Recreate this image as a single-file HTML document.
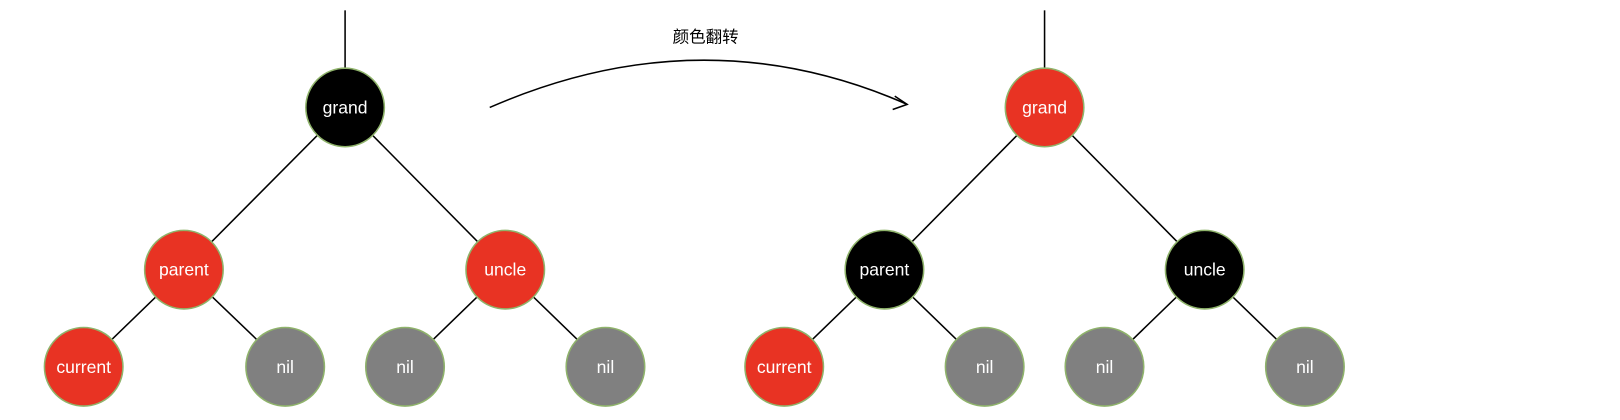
<!DOCTYPE html>
<html><head><meta charset="utf-8"><style>
html,body{margin:0;padding:0;background:#fff;}
svg{display:block}
text{font-family:"Liberation Sans","Noto Sans CJK SC",sans-serif;font-size:17px;fill:#fff;text-anchor:middle;dominant-baseline:central}
</style></head><body>
<svg width="1620" height="420" viewBox="0 0 1620 420" xmlns="http://www.w3.org/2000/svg">
<g transform="scale(1.0332)">
<g stroke="#000" stroke-width="1.5" fill="none">
<line x1="334" y1="10" x2="334" y2="66"/>
<line x1="334" y1="104" x2="178" y2="261"/>
<line x1="334" y1="104" x2="489" y2="261"/>
<line x1="178" y1="261" x2="81" y2="355"/>
<line x1="178" y1="261" x2="276" y2="355"/>
<line x1="489" y1="261" x2="392" y2="355"/>
<line x1="489" y1="261" x2="586" y2="355"/>
<line x1="1011" y1="10" x2="1011" y2="66"/>
<line x1="1011" y1="104" x2="856" y2="261"/>
<line x1="1011" y1="104" x2="1166" y2="261"/>
<line x1="856" y1="261" x2="759" y2="355"/>
<line x1="856" y1="261" x2="953" y2="355"/>
<line x1="1166" y1="261" x2="1069" y2="355"/>
<line x1="1166" y1="261" x2="1263" y2="355"/>
<path d="M474 104 Q680 14 878 101"/>
<path d="M866 93 L878 101 L864 106"/>
</g>
<text x="683" y="36" style="fill:#000;font-size:16px">颜色翻转</text>
<g stroke="#8fb36b" stroke-width="1.5">
<circle cx="334" cy="104" r="38" fill="#000"/>
<circle cx="178" cy="261" r="38" fill="#e83323"/>
<circle cx="489" cy="261" r="38" fill="#e83323"/>
<circle cx="81" cy="355" r="38" fill="#e83323"/>
<circle cx="276" cy="355" r="38" fill="#808080"/>
<circle cx="392" cy="355" r="38" fill="#808080"/>
<circle cx="586" cy="355" r="38" fill="#808080"/>
<circle cx="1011" cy="104" r="38" fill="#e83323"/>
<circle cx="856" cy="261" r="38" fill="#000"/>
<circle cx="1166" cy="261" r="38" fill="#000"/>
<circle cx="759" cy="355" r="38" fill="#e83323"/>
<circle cx="953" cy="355" r="38" fill="#808080"/>
<circle cx="1069" cy="355" r="38" fill="#808080"/>
<circle cx="1263" cy="355" r="38" fill="#808080"/>
</g>
<text x="334" y="104">grand</text>
<text x="178" y="261">parent</text>
<text x="489" y="261">uncle</text>
<text x="81" y="355">current</text>
<text x="276" y="355">nil</text>
<text x="392" y="355">nil</text>
<text x="586" y="355">nil</text>
<text x="1011" y="104">grand</text>
<text x="856" y="261">parent</text>
<text x="1166" y="261">uncle</text>
<text x="759" y="355">current</text>
<text x="953" y="355">nil</text>
<text x="1069" y="355">nil</text>
<text x="1263" y="355">nil</text>
</g>
</svg>
</body></html>
